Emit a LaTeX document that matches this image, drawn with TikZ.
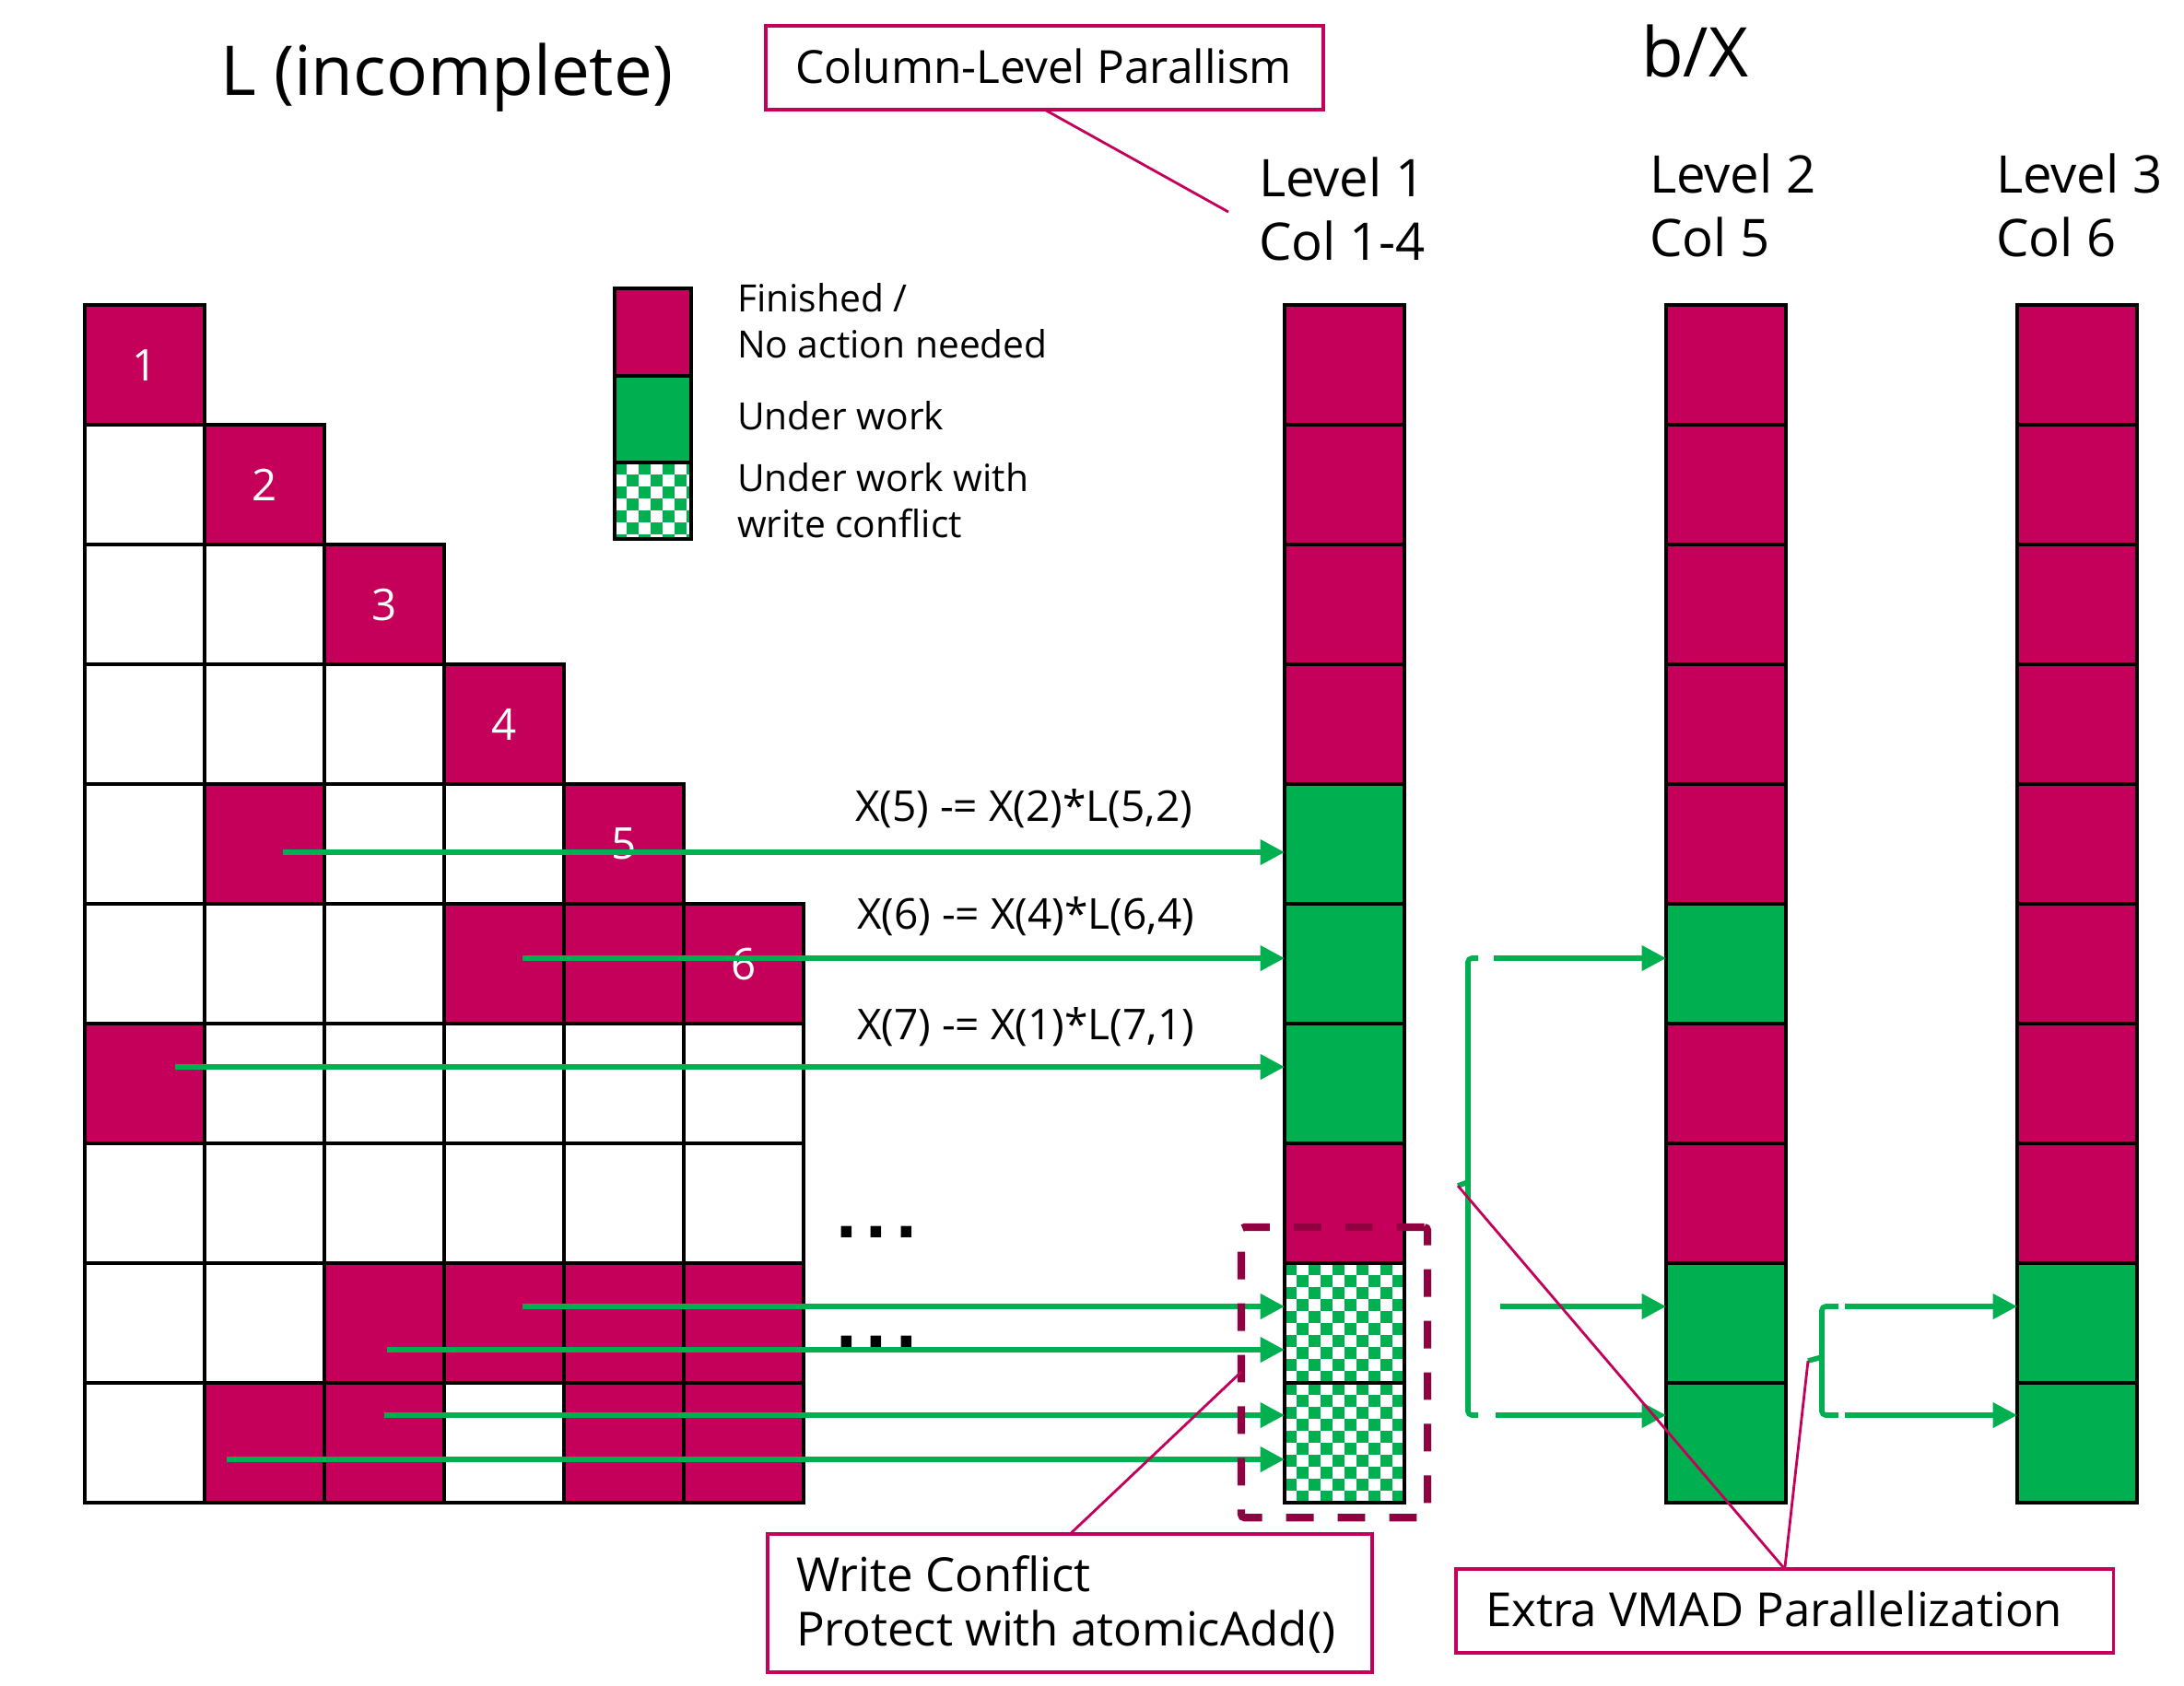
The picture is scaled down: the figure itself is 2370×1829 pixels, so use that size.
\documentclass[tikz,border=0pt]{standalone}
\usepackage{fontspec}
\setmainfont{Open Sans}
\newfontfamily\dotfont{DejaVu Sans}
\usetikzlibrary{arrows.meta}
\definecolor{mag}{HTML}{C5005A}
\definecolor{grn}{HTML}{00B050}
\definecolor{darkmag}{HTML}{910040}
\tikzset{
  cell/.style={draw=black, line width=0.95pt, minimum width=1.3cm, minimum height=1.3cm, inner sep=0pt, outer sep=0pt, anchor=north west},
  fin/.style={cell, fill=mag, text=white, font=\fontsize{13.5}{16}\selectfont},
  emp/.style={cell, fill=white},
  wk/.style={cell, fill=grn},
  chk/.style={cell, fill=white, path picture={
      \foreach \r in {0,...,9}{\foreach \c in {0,...,9}{
        \pgfmathtruncatemacro\chkodd{mod(\r+\c,2)}
        \ifnum\chkodd=0
          \fill[grn] ([shift={(\c*13,\r*13)}]path picture bounding box.north west) rectangle ++(13,13);
        \fi}}}},
  txt/.style={inner sep=0pt, outer sep=0pt, anchor=base west},
  titlefont/.style={font=\fontsize{21.2}{25}\selectfont},
  lvfont/.style={font=\fontsize{16}{19}\selectfont},
  eqfont/.style={font=\fontsize{13.1}{16}\selectfont},
  lgfont/.style={font=\fontsize{11.6}{14}\selectfont},
  boxfont/.style={font=\fontsize{14.5}{17}\selectfont},
  arr/.style={color=grn, line width=1.7pt, -{Triangle[length=7.5pt,width=7.5pt]}},
  brk/.style={color=grn, line width=1.6pt, rounded corners=1.2pt},
  box/.style={draw=mag, line width=1.1pt, inner sep=0pt, outer sep=0pt, anchor=north west},
  callout/.style={draw=mag, line width=0.8pt},
  dbox/.style={draw=darkmag, line width=2.3pt, dash pattern=on 8.5pt off 7.4pt, rounded corners=1pt, inner sep=0pt, outer sep=0pt, anchor=north west}
}
\begin{document}
\begin{tikzpicture}[x=0.01cm, y=-0.01cm]
\useasboundingbox (0,0) rectangle (2370,1829);
\fill[white] (0,0) rectangle (2370,1829);

% titles
\node[txt, titlefont] (tL) at (239,103) {L (incomplete)};
\node[txt, titlefont] (tb) at (1781,83) {b/X};

% matrix L
\foreach \r/\c in {2/1,3/1,3/2,4/1,4/2,4/3,5/1,5/3,5/4,6/1,6/2,6/3,7/2,7/3,7/4,7/5,7/6,8/1,8/2,8/3,8/4,8/5,8/6,9/1,9/2,10/1,10/4}
  \node[emp] (m-\r-\c) at ({92+130*(\c-1)},{331+130*(\r-1)}) {};
\foreach \r/\c in {5/2,6/4,6/5,7/1,9/3,9/4,9/5,9/6,10/2,10/3,10/5,10/6}
  \node[fin] (m-\r-\c) at ({92+130*(\c-1)},{331+130*(\r-1)}) {};
\foreach \k in {1,...,6}
  \node[fin] (m-\k-\k) at ({92+130*(\k-1)},{331+130*(\k-1)}) {\k};

% level columns
\foreach \r in {1,2,3,4,8} \node[fin] (L1-\r) at (1394,{331+130*(\r-1)}) {};
\foreach \r in {5,6,7} \node[wk] (L1-\r) at (1394,{331+130*(\r-1)}) {};
\foreach \r in {9,10} \node[chk] (L1-\r) at (1394,{331+130*(\r-1)}) {};
\foreach \r in {1,2,3,4,5,7,8} \node[fin] (L2-\r) at (1808,{331+130*(\r-1)}) {};
\foreach \r in {6,9,10} \node[wk] (L2-\r) at (1808,{331+130*(\r-1)}) {};
\foreach \r in {1,...,8} \node[fin] (L3-\r) at (2189,{331+130*(\r-1)}) {};
\foreach \r in {9,10} \node[wk] (L3-\r) at (2189,{331+130*(\r-1)}) {};

% level labels
\node[txt, lvfont] (lv1a) at (1366,213) {Level 1};
\node[txt, lvfont] (lv1b) at (1366,282) {Col 1-4};
\node[txt, lvfont] (lv2a) at (1790,209) {Level 2};
\node[txt, lvfont] (lv2b) at (1790,278) {Col 5};
\node[txt, lvfont] (lv3a) at (2166,209) {Level 3};
\node[txt, lvfont] (lv3b) at (2166,278) {Col 6};

% legend
\node[fin, minimum width=0.83cm, minimum height=0.95cm] (lg1) at (667,313) {};
\node[wk, minimum width=0.83cm, minimum height=0.94cm] (lg2) at (667,408) {};
\node[chk, minimum width=0.83cm, minimum height=0.83cm] (lg3) at (667,502) {};
\node[txt, lgfont] (lgt1) at (800,338) {Finished /};
\node[txt, lgfont] (lgt2) at (800,388) {No action needed};
\node[txt, lgfont] (lgt3) at (800,466) {Under work};
\node[txt, lgfont] (lgt4) at (800,533) {Under work with};
\node[txt, lgfont] (lgt5) at (800,583) {write conflict};

% equations
\node[txt, eqfont] (eq5) at (928,891) {X(5) -= X(2)*L(5,2)};
\node[txt, eqfont] (eq6) at (930,1008) {X(6) -= X(4)*L(6,4)};
\node[txt, eqfont] (eq7) at (930,1128) {X(7) -= X(1)*L(7,1)};

% dots
\node[txt, font=\dotfont\bfseries\fontsize{18.5}{20}\selectfont] (dots1) at (906,1343) {.\kern2.3pt.\kern2.3pt.};
\node[txt, font=\dotfont\bfseries\fontsize{18.5}{20}\selectfont] (dots2) at (906,1462) {.\kern2.3pt.\kern2.3pt.};

% arrows L -> level 1
\coordinate (a5) at (307,925);
\coordinate (a6) at (567,1040);
\coordinate (a7) at (190,1158);
\coordinate (a9a) at (567,1418);
\coordinate (a9b) at (420,1465);
\coordinate (a10a) at (417,1536);
\coordinate (a10b) at (246,1584);
\draw[arr] (a5) -- (a5 -| L1-5.west);
\draw[arr] (a6) -- (a6 -| L1-6.west);
\draw[arr] (a7) -- (a7 -| L1-7.west);
\draw[arr] (a9a) -- (a9a -| L1-9.west);
\draw[arr] (a9b) -- (a9b -| L1-9.west);
\draw[arr] (a10a) -- (a10a -| L1-10.west);
\draw[arr] (a10b) -- (a10b -| L1-10.west);

% bracket 1 and arrows to level 2
\draw[brk] (1604,1040) -| (1593,1536) -- (1604,1536);
\draw[brk] (1593,1283) -- (1582,1287);
\coordinate (tip1) at (1582,1287);
\coordinate (b1a) at (1621,1040);
\coordinate (b1b) at (1628,1418);
\coordinate (b1c) at (1623,1536);
\draw[arr] (b1a) -- (b1a -| L2-6.west);
\draw[arr] (b1b) -- (b1b -| L2-9.west);
\draw[arr] (b1c) -- (b1c -| L2-10.west);

% bracket 2 and arrows to level 3
\draw[brk] (1995,1418) -| (1977,1536) -- (1995,1536);
\draw[brk] (1977,1473) -- (1962,1477);
\coordinate (tip2) at (1962,1477);
\coordinate (b2a) at (2002,1418);
\coordinate (b2b) at (2002,1536);
\draw[arr] (b2a) -- (b2a -| L3-9.west);
\draw[arr] (b2b) -- (b2b -| L3-10.west);

% dashed write-conflict box
\node[dbox, minimum width=2.02cm, minimum height=3.15cm] (dbx) at (1347,1332) {};

% callout boxes
\node[box, minimum width=6.05cm, minimum height=0.91cm] (clp) at (831,28) {};
\node[txt, font=\fontsize{14.1}{17}\selectfont] (clpt) at (863,90) {Column-Level Parallism};
\node[box, minimum width=6.56cm, minimum height=1.5cm] (wcb) at (833,1665) {};
\node[txt, boxfont] (wct1) at (864,1727) {Write Conflict};
\node[txt, boxfont] (wct2) at (864,1786) {Protect with atomicAdd()};
\node[box, minimum width=7.13cm, minimum height=0.91cm] (evb) at (1580,1703) {};
\node[txt, boxfont] (evt) at (1612,1765) {Extra VMAD Parallelization};

% callout lines
\coordinate (clpend) at (1333,230);
\coordinate (wcend) at (1347,1489);
\draw[callout] (clp.south) -- (clpend);
\draw[callout] (wcb.north) -- (wcend);
\draw[callout] (evb.north) -- (tip1);
\draw[callout] (evb.north) -- (tip2);
\end{tikzpicture}
\end{document}
